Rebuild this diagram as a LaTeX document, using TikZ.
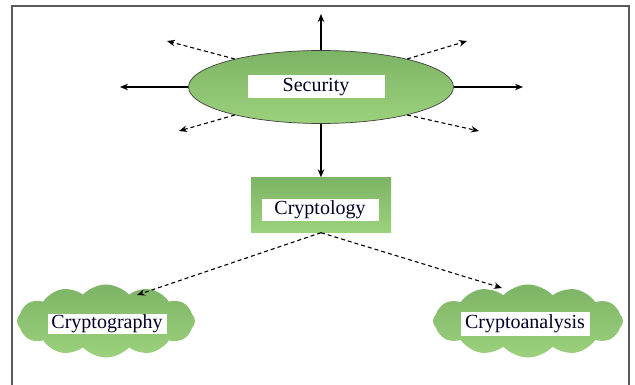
\documentclass[tikz,border=0pt]{standalone}
\usepackage{fontspec}
\setmainfont{Liberation Serif}
\usetikzlibrary{shapes.geometric,shapes.symbols,arrows.meta}
\definecolor{gtop}{HTML}{7DB365}
\definecolor{gbot}{HTML}{9CD27C}
\tikzset{
  greenfill/.style={top color=gtop,bottom color=gbot},
  label box/.style={fill=white,inner sep=0pt,font=\fontsize{20}{24}\selectfont,text=black!85!blue},
  conn/.style={-{Stealth[length=8pt,width=6.5pt]},line width=1.1pt},
  dconn/.style={conn,dash pattern=on 4pt off 3pt},
}
\begin{document}
\begin{tikzpicture}[x=1pt,y=-1pt]
\useasboundingbox (0,0) rectangle (635,385);
% frame
\draw[line width=1.6pt,black!65] (12,385) -- (12,6) -- (629,6) -- (629,385);
% security ellipse
\node[ellipse,greenfill,draw=black!75,line width=0.7pt,minimum width=265pt,minimum height=73pt,inner sep=0pt] (sec) at (321,87) {};
\node[label box,minimum width=137pt,minimum height=23pt] (seclab) at (316,87) {Security};
% cryptology box
\node[rectangle,greenfill,minimum width=140pt,minimum height=55pt,inner sep=0pt] (cry) at (321,205) {};
\node[label box,minimum width=117pt,minimum height=22pt] (crylab) at (320,210) {Cryptology};
% clouds
\node[cloud,cloud puffs=12,cloud puff arc=95,aspect=2.6,greenfill,minimum width=178pt,minimum height=73pt,inner sep=0pt] (cg) at (106,321) {};
\node[label box,minimum width=119pt,minimum height=20pt] (cglab) at (107,324) {Cryptography};
\node[cloud,cloud puffs=12,cloud puff arc=95,aspect=2.8,greenfill,minimum width=190pt,minimum height=73pt,inner sep=0pt] (ca) at (528,321) {};
\node[label box,minimum width=129pt,minimum height=24pt] (calab) at (525,324) {Cryptoanalysis};
% free ends
\coordinate (up) at (321,14);
\coordinate (lft) at (120,87);
\coordinate (rgt) at (523,87);
\coordinate (ul) at (167,41);
\coordinate (ur) at (467,41);
\coordinate (ll) at (179,131);
\coordinate (lr) at (479,131);
\coordinate (cgtip) at (137,295);
\coordinate (catip) at (502,288);
% connectors
\draw[conn] (sec.north) -- (up);
\draw[conn] (sec.west) -- (lft);
\draw[conn] (sec.east) -- (rgt);
\draw[conn] (sec.south) -- (cry.north);
\draw[dconn] (sec.162) -- (ul);
\draw[dconn] (sec.18) -- (ur);
\draw[dconn] (sec.198) -- (ll);
\draw[dconn] (sec.342) -- (lr);
\draw[dconn] (cry.south) -- (cgtip);
\draw[dconn] (cry.south) -- (catip);
\end{tikzpicture}
\end{document}
